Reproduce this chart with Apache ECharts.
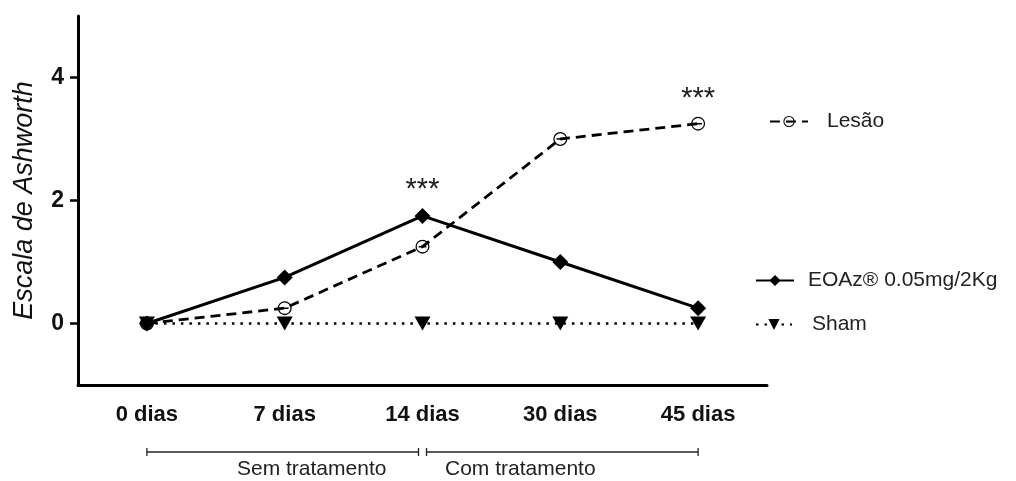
<!DOCTYPE html>
<html>
<head>
<meta charset="utf-8">
<script src="https://cdn.jsdelivr.net/npm/echarts@6/dist/echarts.min.js"></script>
<style>
  html, body { margin: 0; padding: 0; background: #fff; }
  #main { width: 1016px; height: 481px; }
</style>
</head>
<body>
<div id="main"></div>
<script>
  // dados
  var categories = ['0 dias', '7 dias', '14 dias', '30 dias', '45 dias']
  var lesao = [0, 0.25, 1.25, 3.0, 3.25]
  var eoaz = [0, 0.75, 1.75, 1.0, 0.25]
  var sham = [0, 0, 0, 0, 0]
  var yTicks = [0, 2, 4]
  // *** acima de: EOAz em 14 dias, Lesão em 45 dias
  var starsEoaz = [2]
  var starsLesao = [4]
  var periods = [
    { name: 'Sem tratamento', from: 0, to: 2 },
    { name: 'Com tratamento', from: 2, to: 4 },
  ]

  var font = '"Liberation Sans", Arial, sans-serif'
  var circleMinus =
    'path://M10 0A10 10 0 1 1 10 20A10 10 0 1 1 10 0ZM10 1.8A8.2 8.2 0 1 0 10 18.2A8.2 8.2 0 1 0 10 1.8ZM4.5 9H15.5V11.2H4.5Z'

  function withStars(values, idx) {
    return values.map(function (v, i) {
      if (idx.indexOf(i) < 0) return v
      return {
        value: v,
        label: {
          show: true,
          position: 'top',
          distance: 3,
          formatter: '***',
          color: '#222',
          fontSize: 29,
          fontFamily: font,
        },
      }
    })
  }

  function legendText(pad) {
    return { fontSize: 21, fontFamily: font, color: '#222', padding: [0, 0, 0, pad] }
  }

  var chart = echarts.init(document.getElementById('main'))
  var option = {
    animation: false,
    grid: { left: 78, right: 249, top: 16, bottom: 96 },
    legend: [
      {
        data: ['Lesão'],
        left: 764,
        top: 106,
        itemWidth: 38,
        itemHeight: 14,
        textStyle: legendText(14),
      },
      {
        data: ['EOAz® 0.05mg/2Kg'],
        left: 750,
        top: 265,
        itemWidth: 38,
        itemHeight: 14,
        textStyle: legendText(9),
      },
      {
        data: ['Sham'],
        left: 750,
        top: 309,
        itemWidth: 36,
        itemHeight: 14,
        textStyle: legendText(15),
      },
    ],
    xAxis: {
      type: 'category',
      data: categories,
      boundaryGap: true,
      axisLine: { onZero: false, lineStyle: { color: '#000', width: 3 } },
      axisTick: { alignWithLabel: true, length: 8, lineStyle: { width: 2.5, color: '#000' } },
      axisLabel: {
        margin: 19,
        color: '#111',
        fontSize: 22,
        fontWeight: 'bold',
        fontFamily: font,
      },
    },
    yAxis: {
      type: 'value',
      min: -1,
      max: 5,
      name: 'Escala de Ashworth',
      nameLocation: 'middle',
      nameGap: 40,
      nameTextStyle: { fontSize: 27, fontStyle: 'italic', fontFamily: font, color: '#111' },
      splitLine: { show: false },
      axisLine: { show: true, onZero: false, lineStyle: { color: '#000', width: 3 } },
      axisTick: { show: true, length: 8, customValues: yTicks, lineStyle: { width: 2.5, color: '#000' } },
      axisLabel: {
        margin: 14,
        customValues: yTicks,
        color: '#111',
        fontSize: 23,
        fontWeight: 'bold',
        fontFamily: font,
      },
    },
    series: [
      {
        name: 'Sham',
        type: 'line',
        data: sham,
        symbol: 'triangle',
        symbolRotate: 180,
        symbolSize: [16, 14],
        itemStyle: { color: '#000' },
        lineStyle: { color: '#000', width: 2.4, type: [2.5, 6] },
        z: 2,
      },
      {
        name: 'Lesão',
        type: 'line',
        data: withStars(lesao, starsLesao),
        symbol: circleMinus,
        symbolSize: 14,
        symbolKeepAspect: true,
        itemStyle: { color: '#000' },
        lineStyle: { color: '#000', width: 2.8, type: [10, 6] },
        z: 3,
      },
      {
        name: 'EOAz® 0.05mg/2Kg',
        type: 'line',
        data: withStars(eoaz, starsEoaz),
        symbol: 'diamond',
        symbolSize: 16,
        itemStyle: { color: '#000' },
        lineStyle: { color: '#000', width: 3 },
        z: 4,
      },
    ],
  }
  chart.setOption(option)

  // colchetes dos períodos abaixo do eixo
  var yLine = 452
  var elements = []
  periods.forEach(function (p, k) {
    var x1 = chart.convertToPixel({ xAxisIndex: 0 }, categories[p.from])
    var x2 = chart.convertToPixel({ xAxisIndex: 0 }, categories[p.to])
    if (k === 0) x2 -= 4
    else x1 += 4
    var st = { stroke: '#222', lineWidth: 1.3 }
    elements.push({ type: 'line', shape: { x1: x1, y1: yLine, x2: x2, y2: yLine }, style: st })
    elements.push({ type: 'line', shape: { x1: x1, y1: yLine - 4, x2: x1, y2: yLine + 4 }, style: st })
    elements.push({ type: 'line', shape: { x1: x2, y1: yLine - 4, x2: x2, y2: yLine + 4 }, style: st })
    elements.push({
      type: 'text',
      x: (x1 + x2) / 2 + (k === 0 ? 29 : -42),
      y: yLine + 17,
      style: {
        text: p.name,
        fill: '#222',
        font: '21px ' + font,
        textAlign: 'center',
        textVerticalAlign: 'middle',
      },
    })
  })
  chart.setOption({ graphic: elements })
</script>
</body>
</html>
